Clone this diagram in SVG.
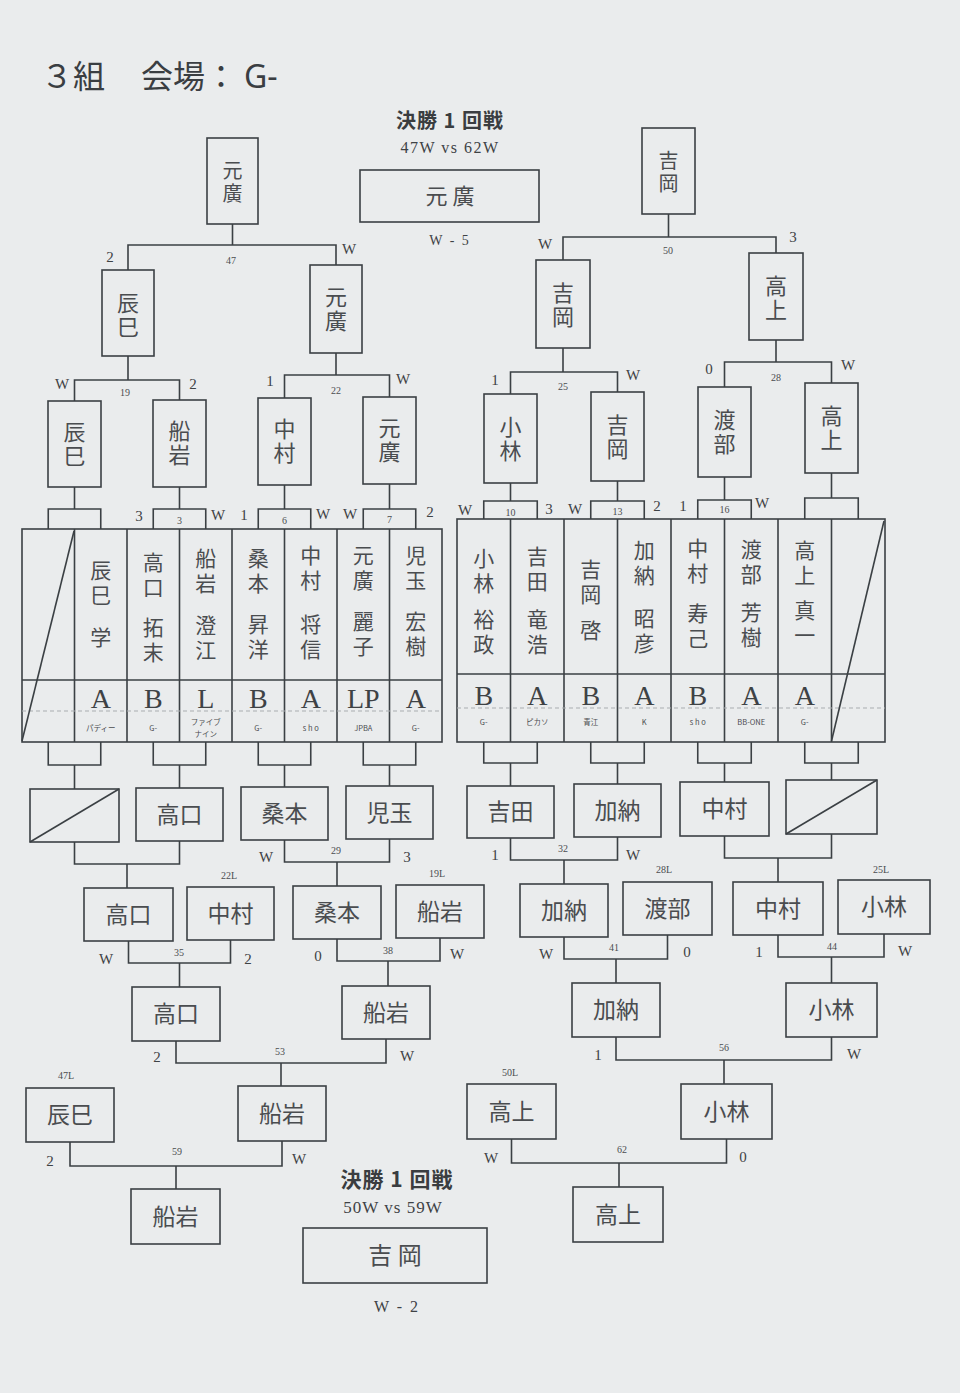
<svg xmlns="http://www.w3.org/2000/svg" width="960" height="1393" viewBox="0 0 960 1393">
<style>
.bx{fill:none;stroke:#3b4044;stroke-width:1.6}
.ln{fill:none;stroke:#3b4044;stroke-width:1.6}
.dash{fill:none;stroke:#a9adb0;stroke-width:1;stroke-dasharray:4 3}
.nm{font-family:"Noto Sans CJK JP","Noto Sans CJK SC",sans-serif;fill:#4a4d50;text-anchor:middle}
.vt{font-family:"Noto Sans CJK JP","Noto Sans CJK SC",sans-serif;fill:#4a4d50;text-anchor:middle;writing-mode:vertical-rl;font-size:22px;letter-spacing:2px}
.tv{font-family:"Noto Sans CJK JP","Noto Sans CJK SC",sans-serif;fill:#4a4d50;text-anchor:middle;writing-mode:vertical-rl;font-size:21px;letter-spacing:4px}
.h{font-size:23px}
.sc{font-family:"Liberation Serif",serif;fill:#3e4245;font-size:15px;text-anchor:middle}
.mn{font-family:"Liberation Serif",serif;fill:#4a4d50;font-size:10px;text-anchor:middle}
.gr{font-family:"Liberation Serif",serif;fill:#3e4245;font-size:28px;text-anchor:middle}
.cl{font-family:"Noto Sans CJK JP","Noto Sans CJK SC",sans-serif;fill:#4a4d50;font-size:7.5px;text-anchor:middle}
.tt{font-family:"Noto Sans CJK JP","Noto Sans CJK SC",serif;fill:#3a3d40;font-weight:bold;text-anchor:middle}
.ts{font-family:"Liberation Serif",serif;fill:#3e4245;text-anchor:middle}
</style>
<rect x="0" y="0" width="960" height="1393" fill="#eaeced"/>

<!-- header -->
<g id="header" font-family="Noto Sans CJK JP, Noto Sans CJK SC, sans-serif" font-size="32" fill="#3a3e42">
<text x="41" y="88">３組</text>
<text x="141" y="88">会場：</text>
<text x="244" y="88" font-family="Noto Sans, sans-serif">G-</text>
</g>

<!-- final 1 (top) -->
<g id="final-top">
<text class="tt" x="450" y="128" font-size="20" letter-spacing="1">決勝 1 回戦</text>
<text class="ts" x="450" y="153" font-size="16" letter-spacing="1.5">47W vs 62W</text>
<rect class="bx" x="360" y="170" width="179" height="52"/>
<text class="nm" x="450" y="204" font-size="22">元 廣</text>
<text class="ts" x="450" y="245" font-size="14" letter-spacing="2">W - 5</text>
</g>

<!-- final 2 (bottom) -->
<g id="final-bottom">
<text class="tt" x="397" y="1187" font-size="21" letter-spacing="1">決勝 1 回戦</text>
<text class="ts" x="393" y="1213" font-size="17" letter-spacing="1">50W vs 59W</text>
<rect class="bx" x="303" y="1228" width="184" height="55"/>
<text class="nm" x="395" y="1264" font-size="24">吉 岡</text>
<text class="ts" x="397" y="1312" font-size="16" letter-spacing="2">W - 2</text>
</g>

<!-- connectors -->
<g id="connectors" class="ln">
<path d="M128,270 V245 H336 V265 M232.5,245 V224"/>
<path d="M74.5,401 V380 H179.5 V400 M128,380 V356"/>
<path d="M284.5,398 V375 H389.5 V397 M336,375 V353"/>
<path d="M74.5,487 V509 M179.5,487 V509 M284.5,485 V509 M389.5,484 V509"/>
<path d="M48.25,529 V509 H100.75 V529 M153.25,529 V509 H205.75 V529 M258.25,529 V509 H310.75 V529 M363.25,529 V509 H415.75 V529"/>
<path d="M563,260 V237 H776 V253 M668.5,237 V214"/>
<path d="M510.5,394 V372 H617.5 V392 M563,372 V348"/>
<path d="M724.5,387 V362 H831.5 V383 M776,362 V340"/>
<path d="M510.5,483 V501 M617.5,481 V501 M724.5,477 V500 M831.5,473 V498"/>
<path d="M483.75,519 V501 H537.25 V519 M590.75,519 V501 H644.25 V519 M697.75,519 V500 H751.25 V519 M804.75,519 V498 H858.25 V519"/>
<path d="M48.25,742 V765 H100.75 V742 M153.25,742 V765 H205.75 V742 M258.25,742 V765 H310.75 V742 M363.25,742 V765 H415.75 V742"/>
<path d="M74.5,765 V789 M179.5,765 V788 M284.5,765 V787 M389.5,765 V786"/>
<path d="M74.5,842 V864 H179.5 V841 M127,864 V888"/>
<path d="M284.5,840 V862 H389.5 V839 M337,862 V886"/>
<path d="M128.5,941 V963 H230.5 V940 M179.5,963 V987"/>
<path d="M337,939 V961 H440 V938 M388,961 V986"/>
<path d="M176,1041 V1063 H386 V1039 M281,1063 V1086"/>
<path d="M70,1142 V1166 H282 V1141 M176,1166 V1189"/>
<path d="M483.75,742 V763 H537.25 V742 M590.75,742 V763 H644.25 V742 M697.75,742 V763 H751.25 V742 M804.75,742 V763 H858.25 V742"/>
<path d="M510.5,763 V786 M617.5,763 V784 M724.5,763 V782 M831.5,763 V780"/>
<path d="M510.5,838 V860 H617.5 V837 M564,860 V884"/>
<path d="M724.5,836 V858 H831.5 V834 M778,858 V882"/>
<path d="M564,937 V959 H667.5 V935 M616,959 V983"/>
<path d="M778,935 V957 H884 V934 M831.5,957 V983"/>
<path d="M616,1037 V1060 H831.5 V1037 M724,1060 V1084"/>
<path d="M511.5,1139 V1163 H726.5 V1139 M619,1163 V1187"/>
</g>

<!-- match / score labels -->
<g id="labels">
<text class="sc" x="110" y="262">2</text><text class="mn" x="231" y="264">47</text><text class="sc" x="349" y="254">W</text>
<text class="sc" x="545" y="249">W</text><text class="mn" x="668" y="254">50</text><text class="sc" x="793" y="242">3</text>
<text class="sc" x="62" y="389">W</text><text class="mn" x="125" y="396">19</text><text class="sc" x="193" y="389">2</text>
<text class="sc" x="270" y="386">1</text><text class="mn" x="336" y="394">22</text><text class="sc" x="403" y="384">W</text>
<text class="sc" x="495" y="385">1</text><text class="mn" x="563" y="390">25</text><text class="sc" x="633" y="380">W</text>
<text class="sc" x="709" y="374">0</text><text class="mn" x="776" y="381">28</text><text class="sc" x="848" y="370">W</text>
<text class="sc" x="139" y="521">3</text><text class="mn" x="179.5" y="524">3</text><text class="sc" x="218" y="520">W</text>
<text class="sc" x="244" y="520">1</text><text class="mn" x="284.5" y="524">6</text><text class="sc" x="323" y="519">W</text>
<text class="sc" x="350" y="519">W</text><text class="mn" x="389.5" y="523">7</text><text class="sc" x="430" y="517">2</text>
<text class="sc" x="465" y="515">W</text><text class="mn" x="510.5" y="516">10</text><text class="sc" x="549" y="514">3</text>
<text class="sc" x="575" y="514">W</text><text class="mn" x="617.5" y="515">13</text><text class="sc" x="657" y="511">2</text>
<text class="sc" x="683" y="511">1</text><text class="mn" x="724.5" y="513">16</text><text class="sc" x="762" y="508">W</text>
<text class="sc" x="266" y="862">W</text><text class="mn" x="336" y="854">29</text><text class="sc" x="407" y="862">3</text>
<text class="mn" x="229" y="879">22L</text><text class="mn" x="437" y="877">19L</text>
<text class="sc" x="106" y="964">W</text><text class="mn" x="179" y="956">35</text><text class="sc" x="248" y="964">2</text>
<text class="sc" x="318" y="961">0</text><text class="mn" x="388" y="954">38</text><text class="sc" x="457" y="959">W</text>
<text class="sc" x="157" y="1062">2</text><text class="mn" x="280" y="1055">53</text><text class="sc" x="407" y="1061">W</text>
<text class="mn" x="66" y="1079">47L</text>
<text class="sc" x="50" y="1166">2</text><text class="mn" x="177" y="1155">59</text><text class="sc" x="299" y="1164">W</text>
<text class="sc" x="495" y="860">1</text><text class="mn" x="563" y="852">32</text><text class="sc" x="633" y="860">W</text>
<text class="mn" x="664" y="873">28L</text><text class="mn" x="881" y="873">25L</text>
<text class="sc" x="546" y="959">W</text><text class="mn" x="614" y="951">41</text><text class="sc" x="687" y="957">0</text>
<text class="sc" x="759" y="957">1</text><text class="mn" x="832" y="950">44</text><text class="sc" x="905" y="956">W</text>
<text class="sc" x="598" y="1060">1</text><text class="mn" x="724" y="1051">56</text><text class="sc" x="854" y="1059">W</text>
<text class="mn" x="510" y="1076">50L</text>
<text class="sc" x="491" y="1163">W</text><text class="mn" x="622" y="1153">62</text><text class="sc" x="743" y="1162">0</text>
</g>

<!-- upper left boxes -->
<g id="n-top-motohiro"><rect class="bx" x="207" y="138" width="51" height="86"/><text class="vt" style="font-size:20px;letter-spacing:3px" x="232.5" y="183">元廣</text></g>
<g id="n-47-tatsumi"><rect class="bx" x="102" y="270" width="52" height="86"/><text class="vt" x="128" y="315.5">辰巳</text></g>
<g id="n-47-motohiro"><rect class="bx" x="310" y="265" width="52" height="88"/><text class="vt" x="336" y="310">元廣</text></g>
<g id="n-19-tatsumi"><rect class="bx" x="48" y="401" width="53" height="86"/><text class="vt" x="74.5" y="445">辰巳</text></g>
<g id="n-19-funaiwa"><rect class="bx" x="153" y="400" width="53" height="87"/><text class="vt" x="179.5" y="444">船岩</text></g>
<g id="n-22-nakamura"><rect class="bx" x="258" y="398" width="53" height="87"/><text class="vt" x="284.5" y="442">中村</text></g>
<g id="n-22-motohiro"><rect class="bx" x="363" y="397" width="53" height="87"/><text class="vt" x="389.5" y="441">元廣</text></g>

<!-- upper right boxes -->
<g id="n-top-yoshioka"><rect class="bx" x="642" y="128" width="53" height="86"/><text class="vt" style="font-size:20px;letter-spacing:3px" x="668.5" y="173">吉岡</text></g>
<g id="n-50-yoshioka"><rect class="bx" x="536" y="260" width="54" height="88"/><text class="vt" x="563" y="305.5">吉岡</text></g>
<g id="n-50-takagami"><rect class="bx" x="749" y="253" width="54" height="87"/><text class="vt" x="776" y="298.5">高上</text></g>
<g id="n-25-kobayashi"><rect class="bx" x="484" y="394" width="53" height="89"/><text class="vt" x="510.5" y="439.5">小林</text></g>
<g id="n-25-yoshioka"><rect class="bx" x="591" y="392" width="53" height="89"/><text class="vt" x="617.5" y="437.5">吉岡</text></g>
<g id="n-28-watanabe"><rect class="bx" x="698" y="387" width="53" height="90"/><text class="vt" x="724.5" y="432.5">渡部</text></g>
<g id="n-28-takagami"><rect class="bx" x="805" y="383" width="53" height="90"/><text class="vt" x="831.5" y="428.5">高上</text></g>

<!-- left player table -->
<g id="table-left">
<rect class="bx" x="22" y="529" width="420" height="213"/>
<path class="ln" d="M74.5,529 V742 M127,529 V742 M179.5,529 V742 M232,529 V742 M284.5,529 V742 M337,529 V742 M389.5,529 V742 M22,680 H442"/>
<path class="dash" d="M22,711 H442"/>
<path class="ln" d="M22,741 L74,531"/>
</g>
<g id="p-tatsumi"><text class="tv" x="100.75" y="584.5">辰巳</text><text class="tv" x="100.75" y="639">学</text><text class="gr" x="100.75" y="708">A</text><text class="cl" x="100.75" y="731">パディー</text></g>
<g id="p-takaguchi"><text class="tv" x="153.25" y="576.5">高口</text><text class="tv" x="153.25" y="642">拓末</text><text class="gr" x="153.25" y="708">B</text><text class="cl" x="153.25" y="731">G-</text></g>
<g id="p-funaiwa"><text class="tv" x="205.75" y="572.5">船岩</text><text class="tv" x="205.75" y="639.5">澄江</text><text class="gr" x="205.75" y="708">L</text><text class="cl" x="205.75" y="725">ファイブ</text><text class="cl" x="205.75" y="737">ナイン</text></g>
<g id="p-kuwamoto"><text class="tv" x="258.25" y="572.5">桑本</text><text class="tv" x="258.25" y="638.5">昇洋</text><text class="gr" x="258.25" y="708">B</text><text class="cl" x="258.25" y="731">G-</text></g>
<g id="p-nakamura-m"><text class="tv" x="310.75" y="569.5">中村</text><text class="tv" x="310.75" y="638.5">将信</text><text class="gr" x="310.75" y="708">A</text><text class="cl" x="310.75" y="731">s h o</text></g>
<g id="p-motohiro"><text class="tv" x="363.25" y="569.5">元廣</text><text class="tv" x="363.25" y="636">麗子</text><text class="gr" x="363.25" y="708">LP</text><text class="cl" x="363.25" y="731">JPBA</text></g>
<g id="p-kodama"><text class="tv" x="415.75" y="569.5">児玉</text><text class="tv" x="415.75" y="636">宏樹</text><text class="gr" x="415.75" y="708">A</text><text class="cl" x="415.75" y="731">G-</text></g>

<!-- right player table -->
<g id="table-right">
<rect class="bx" x="457" y="519" width="428" height="223"/>
<path class="ln" d="M510.5,519 V742 M564,519 V742 M617.5,519 V742 M671,519 V742 M724.5,519 V742 M778,519 V742 M831.5,519 V742 M457,674 H885"/>
<path class="dash" d="M457,708 H885"/>
<path class="ln" d="M831.5,741 L884,521"/>
</g>
<g id="p-kobayashi"><text class="tv" x="483.75" y="572.5">小林</text><text class="tv" x="483.75" y="633.5">裕政</text><text class="gr" x="483.75" y="705">B</text><text class="cl" x="483.75" y="725">G-</text></g>
<g id="p-yoshida"><text class="tv" x="537.25" y="571">吉田</text><text class="tv" x="537.25" y="633.5">竜浩</text><text class="gr" x="537.25" y="705">A</text><text class="cl" x="537.25" y="725">ピカソ</text></g>
<g id="p-yoshioka"><text class="tv" x="590.75" y="583.5">吉岡</text><text class="tv" x="590.75" y="632">啓</text><text class="gr" x="590.75" y="705">B</text><text class="cl" x="590.75" y="725">青江</text></g>
<g id="p-kanou"><text class="tv" x="644.25" y="564.5">加納</text><text class="tv" x="644.25" y="632.5">昭彦</text><text class="gr" x="644.25" y="705">A</text><text class="cl" x="644.25" y="725">K</text></g>
<g id="p-nakamura-h"><text class="tv" x="697.75" y="562.5">中村</text><text class="tv" x="697.75" y="628">寿己</text><text class="gr" x="697.75" y="705">B</text><text class="cl" x="697.75" y="725">s h o</text></g>
<g id="p-watanabe"><text class="tv" x="751.25" y="563.5">渡部</text><text class="tv" x="751.25" y="627">芳樹</text><text class="gr" x="751.25" y="705">A</text><text class="cl" x="751.25" y="725">BB-ONE</text></g>
<g id="p-takagami"><text class="tv" x="804.75" y="564.5">高上</text><text class="tv" x="804.75" y="624.5">真一</text><text class="gr" x="804.75" y="705">A</text><text class="cl" x="804.75" y="725">G-</text></g>

<!-- lower left boxes -->
<g id="n-bye-left"><rect class="bx" x="30" y="789" width="89" height="53"/><path class="ln" d="M30,842 L119,789"/></g>
<g id="n-3-takaguchi"><rect class="bx" x="136" y="788" width="87" height="53"/><text class="nm h" x="179.5" y="823">高口</text></g>
<g id="n-6-kuwamoto"><rect class="bx" x="241" y="787" width="87" height="53"/><text class="nm h" x="284.5" y="822">桑本</text></g>
<g id="n-7-kodama"><rect class="bx" x="346" y="786" width="87" height="53"/><text class="nm h" x="389.5" y="821">児玉</text></g>
<g id="n-b-takaguchi"><rect class="bx" x="84" y="888" width="89" height="53"/><text class="nm h" x="128.5" y="923">高口</text></g>
<g id="n-22L-nakamura"><rect class="bx" x="187" y="887" width="87" height="53"/><text class="nm h" x="230.5" y="922">中村</text></g>
<g id="n-29-kuwamoto"><rect class="bx" x="293" y="886" width="88" height="53"/><text class="nm h" x="337" y="921">桑本</text></g>
<g id="n-19L-funaiwa"><rect class="bx" x="396" y="885" width="88" height="53"/><text class="nm h" x="440" y="920">船岩</text></g>
<g id="n-35-takaguchi"><rect class="bx" x="132" y="987" width="88" height="54"/><text class="nm h" x="176" y="1022">高口</text></g>
<g id="n-38-funaiwa"><rect class="bx" x="342" y="986" width="88" height="53"/><text class="nm h" x="386" y="1021">船岩</text></g>
<g id="n-53-funaiwa"><rect class="bx" x="238" y="1086" width="88" height="55"/><text class="nm h" x="282" y="1122">船岩</text></g>
<g id="n-47L-tatsumi"><rect class="bx" x="26" y="1088" width="88" height="54"/><text class="nm h" x="70" y="1123">辰巳</text></g>
<g id="n-59-funaiwa"><rect class="bx" x="131" y="1189" width="89" height="55"/><text class="nm h" x="175.5" y="1225">船岩</text></g>

<!-- lower right boxes -->
<g id="n-10-yoshida"><rect class="bx" x="467" y="786" width="87" height="52"/><text class="nm h" x="510.5" y="820">吉田</text></g>
<g id="n-13-kanou"><rect class="bx" x="574" y="784" width="87" height="53"/><text class="nm h" x="617.5" y="819">加納</text></g>
<g id="n-16-nakamura"><rect class="bx" x="680" y="782" width="89" height="54"/><text class="nm h" x="724.5" y="817">中村</text></g>
<g id="n-bye-right"><rect class="bx" x="786" y="780" width="91" height="54"/><path class="ln" d="M786,834 L877,780"/></g>
<g id="n-32-kanou"><rect class="bx" x="520" y="884" width="88" height="53"/><text class="nm h" x="564" y="919">加納</text></g>
<g id="n-28L-watanabe"><rect class="bx" x="623" y="882" width="89" height="53"/><text class="nm h" x="667.5" y="917">渡部</text></g>
<g id="n-b-nakamura"><rect class="bx" x="733" y="882" width="90" height="53"/><text class="nm h" x="778" y="917">中村</text></g>
<g id="n-25L-kobayashi"><rect class="bx" x="838" y="880" width="92" height="54"/><text class="nm h" x="884" y="915">小林</text></g>
<g id="n-41-kanou"><rect class="bx" x="572" y="983" width="88" height="54"/><text class="nm h" x="616" y="1018">加納</text></g>
<g id="n-44-kobayashi"><rect class="bx" x="786" y="983" width="91" height="54"/><text class="nm h" x="831.5" y="1018">小林</text></g>
<g id="n-50L-takagami"><rect class="bx" x="467" y="1084" width="89" height="55"/><text class="nm h" x="511.5" y="1120">高上</text></g>
<g id="n-56-kobayashi"><rect class="bx" x="681" y="1084" width="91" height="55"/><text class="nm h" x="726.5" y="1120">小林</text></g>
<g id="n-62-takagami"><rect class="bx" x="573" y="1187" width="90" height="55"/><text class="nm h" x="618" y="1223">高上</text></g>
</svg>
